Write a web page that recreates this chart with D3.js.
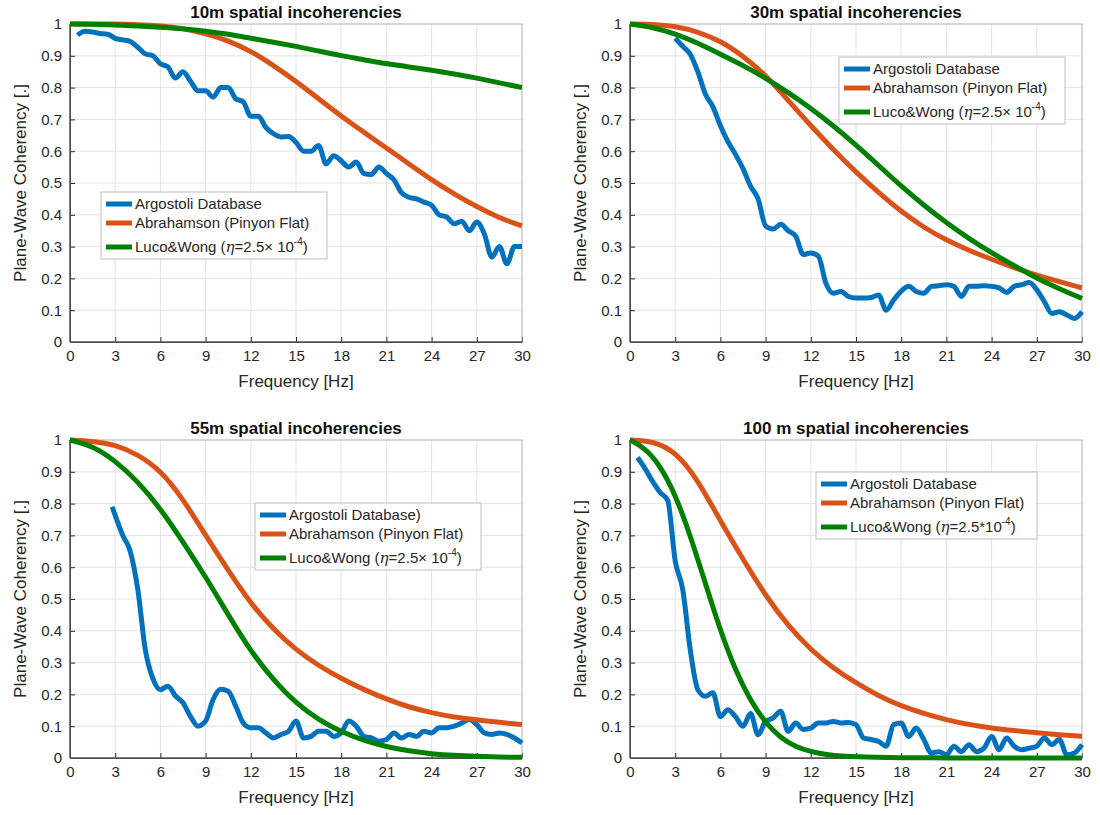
<!DOCTYPE html>
<html>
<head>
<meta charset="utf-8">
<script src="https://cdn.jsdelivr.net/npm/d3@7"></script>
<style>
body { margin:0; background:#fff; font-family:"Liberation Sans", Arial, sans-serif; }
</style>
</head>
<body>
<svg id="chart" width="1100" height="815"></svg>
<script>
// frequency ticks and model sample frequencies
const xTicks = [0,3,6,9,12,15,18,21,24,27,30]
const yTicks = [0,0.1,0.2,0.3,0.4,0.5,0.6,0.7,0.8,0.9,1]
const modelF = [0,1.5,3,4.5,6,7.5,9,10.5,12,13.5,15,16.5,18,19.5,21,22.5,24,25.5,27,28.5,30]

// 10m
const arg10F = [0.5,1,1.5,2,2.5,3,3.5,4,4.5,5,5.5,6,6.5,7,7.5,8,8.5,9,9.5,10,10.5,11,11.5,12,12.5,13,13.5,14,14.5,15,15.5,16,16.5,17,17.5,18,18.5,19,19.5,20,20.5,21,21.5,22,22.5,23,23.5,24,24.5,25,25.5,26,26.5,27,27.5,28,28.5,29,29.5,30]
const arg10 = [0.965,0.977,0.975,0.97,0.968,0.955,0.95,0.945,0.927,0.906,0.9,0.875,0.865,0.83,0.85,0.82,0.79,0.79,0.77,0.80,0.80,0.765,0.755,0.71,0.71,0.675,0.655,0.645,0.646,0.628,0.60,0.60,0.618,0.56,0.586,0.57,0.55,0.566,0.53,0.527,0.55,0.53,0.51,0.47,0.455,0.45,0.44,0.43,0.40,0.393,0.372,0.38,0.35,0.377,0.34,0.267,0.30,0.246,0.30,0.30]
const abr10 = [1,1,1,0.998,0.995,0.986,0.97,0.948,0.915,0.87,0.82,0.765,0.71,0.66,0.61,0.56,0.51,0.465,0.425,0.39,0.365]
const luc10 = [1,0.999,0.997,0.994,0.99,0.985,0.978,0.968,0.955,0.943,0.93,0.915,0.90,0.888,0.875,0.865,0.855,0.843,0.83,0.815,0.80]

// 30m
const arg30F = [3,3.5,4,4.5,5,5.5,6,6.5,7,7.5,8,8.5,9,9.5,10,10.5,11,11.5,12,12.5,13,13.5,14,14.5,15,15.5,16,16.5,17,17.5,18,18.5,19,19.5,20,20.5,21,21.5,22,22.5,23,23.5,24,24.5,25,25.5,26,26.5,27,27.5,28,28.5,29,29.5,30]
const arg30 = [0.955,0.93,0.905,0.85,0.78,0.74,0.68,0.63,0.59,0.545,0.49,0.45,0.365,0.355,0.37,0.35,0.333,0.275,0.28,0.27,0.185,0.153,0.159,0.143,0.138,0.138,0.14,0.148,0.10,0.132,0.16,0.175,0.159,0.153,0.175,0.177,0.18,0.175,0.143,0.175,0.175,0.177,0.175,0.17,0.156,0.175,0.18,0.187,0.164,0.127,0.09,0.095,0.085,0.074,0.095]
const abr30 = [1,0.999,0.993,0.976,0.947,0.9,0.84,0.76,0.68,0.605,0.534,0.47,0.41,0.36,0.32,0.288,0.26,0.233,0.21,0.19,0.17]
const luc30 = [1,0.99,0.97,0.94,0.905,0.87,0.83,0.785,0.735,0.68,0.62,0.555,0.49,0.43,0.375,0.325,0.28,0.24,0.20,0.167,0.137]

// 55m
const arg55F = [2.8,3.5,4,4.5,5,5.5,6,6.5,7,7.5,8,8.5,9,9.5,10,10.5,11,11.5,12,12.5,13,13.5,14,14.5,15,15.5,16,16.5,17,17.5,18,18.5,19,19.5,20,20.5,21,21.5,22,22.5,23,23.5,24,24.5,25,25.5,26,26.5,27,27.5,28,28.5,29,29.5,30]
const arg55 = [0.79,0.70,0.65,0.53,0.34,0.25,0.215,0.226,0.195,0.174,0.13,0.10,0.116,0.184,0.216,0.21,0.163,0.11,0.095,0.095,0.079,0.063,0.074,0.084,0.116,0.063,0.068,0.084,0.084,0.068,0.079,0.116,0.10,0.068,0.063,0.053,0.058,0.079,0.063,0.074,0.068,0.084,0.079,0.095,0.095,0.10,0.11,0.121,0.105,0.079,0.074,0.079,0.074,0.063,0.047]
const abr55 = [1,0.997,0.985,0.955,0.905,0.815,0.70,0.59,0.485,0.405,0.34,0.29,0.25,0.215,0.185,0.16,0.142,0.128,0.12,0.112,0.105]
const luc55 = [1,0.982,0.935,0.87,0.785,0.68,0.57,0.45,0.335,0.245,0.172,0.12,0.082,0.055,0.035,0.022,0.013,0.008,0.005,0.003,0.002]

// 100m
const arg100F = [0.5,1,1.5,2,2.5,3,3.5,4,4.5,5,5.5,6,6.5,7,7.5,8,8.5,9,9.5,10,10.5,11,11.5,12,12.5,13,13.5,14,14.5,15,15.5,16,16.5,17,17.5,18,18.5,19,19.5,20,20.5,21,21.5,22,22.5,23,23.5,24,24.5,25,25.5,26,26.5,27,27.5,28,28.5,29,29.5,30]
const arg100 = [0.945,0.91,0.87,0.835,0.81,0.62,0.53,0.34,0.215,0.194,0.205,0.13,0.152,0.13,0.10,0.14,0.073,0.115,0.126,0.147,0.084,0.11,0.09,0.094,0.11,0.11,0.115,0.11,0.112,0.105,0.063,0.058,0.052,0.037,0.105,0.11,0.068,0.094,0.058,0.016,0.02,0.01,0.037,0.02,0.042,0.02,0.031,0.068,0.026,0.063,0.037,0.026,0.031,0.037,0.063,0.042,0.058,0.01,0.016,0.042]
const abr100 = [1,0.997,0.965,0.875,0.745,0.625,0.51,0.415,0.34,0.282,0.236,0.195,0.163,0.14,0.12,0.105,0.094,0.086,0.079,0.073,0.068]
const luc100F = [0,1,2,3,4,5,6,7,8,9,10,11,12,13,15,18,21,24,27,30]
const luc100 = [1,0.975,0.92,0.83,0.70,0.55,0.40,0.275,0.18,0.11,0.063,0.035,0.02,0.01,0.003,0.001,0,0,0,0]

const blue = '#0072BD', orange = '#D95319', green = '#008000'

const panels = [
  {title:'10m spatial incoherencies', x:70, y:24, lines:[[arg10F,arg10,blue],[modelF,abr10,orange],[modelF,luc10,green]],
   legend:{x:101,y:192,w:226}, leg:['Argostoli Database','Abrahamson (Pinyon Flat)','x']},
  {title:'30m spatial incoherencies', x:630, y:24, lines:[[arg30F,arg30,blue],[modelF,abr30,orange],[modelF,luc30,green]],
   legend:{x:839,y:57,w:226}, leg:['Argostoli Database','Abrahamson (Pinyon Flat)','x']},
  {title:'55m spatial incoherencies', x:70, y:440, lines:[[arg55F,arg55,blue],[modelF,abr55,orange],[modelF,luc55,green]],
   legend:{x:255,y:503,w:226}, leg:['Argostoli Database)','Abrahamson (Pinyon Flat)','x']},
  {title:'100 m spatial incoherencies', x:630, y:440, lines:[[arg100F,arg100,blue],[modelF,abr100,orange],[luc100F,luc100,green]],
   legend:{x:816,y:472,w:221}, leg:['Argostoli Database','Abrahamson (Pinyon Flat)','*']}
]

const W = 452, H = 318
const svg = d3.select('#chart')

panels.forEach(p => {
  const g = svg.append('g').attr('transform', 'translate(' + p.x + ',' + p.y + ')')
  const x = d3.scaleLinear().domain([0,30]).range([0,W])
  const y = d3.scaleLinear().domain([0,1]).range([H,0])

  // grid
  g.selectAll('.gx').data(xTicks).enter().append('line')
    .attr('x1', d => x(d)).attr('x2', d => x(d)).attr('y1',0).attr('y2',H)
    .attr('stroke','#e3e3e3')
  g.selectAll('.gy').data(yTicks).enter().append('line')
    .attr('y1', d => y(d)).attr('y2', d => y(d)).attr('x1',0).attr('x2',W)
    .attr('stroke','#e3e3e3')

  const xAxis = d3.axisBottom(x).tickValues(xTicks).tickSizeInner(-5).tickSizeOuter(0).tickPadding(8)
  const yAxis = d3.axisLeft(y).tickValues(yTicks).tickSizeInner(-5).tickSizeOuter(0).tickPadding(8)
    .tickFormat(d => d === 0 || d === 1 ? String(d) : d3.format('.1f')(d))
  g.append('g').attr('transform','translate(0,' + H + ')').call(xAxis)
    .call(a => a.selectAll('text').attr('font-size',15).attr('fill','#262626').attr('font-family','Liberation Sans, Arial'))
    .call(a => a.selectAll('line,path').attr('stroke','#262626'))
  g.append('g').call(yAxis)
    .call(a => a.selectAll('text').attr('font-size',15).attr('fill','#262626').attr('font-family','Liberation Sans, Arial'))
    .call(a => a.selectAll('line,path').attr('stroke','#262626'))
  g.append('rect').attr('width',W).attr('height',H).attr('fill','none').attr('stroke','#bdbdbd')
  g.append('line').attr('x1',0).attr('x2',W).attr('y1',H).attr('y2',H).attr('stroke','#262626')
  g.append('line').attr('x1',0).attr('x2',0).attr('y1',0).attr('y2',H).attr('stroke','#262626')

  const dataLine = d3.line().x(d => x(d[0])).y(d => y(d[1])).curve(d3.curveMonotoneX)
  const modelLine = d3.line().x(d => x(d[0])).y(d => y(d[1])).curve(d3.curveBasis)
  p.lines.forEach((l, k) => {
    g.append('path').datum(l[0].map((f,i) => [f, l[1][i]]))
      .attr('d', k === 0 ? dataLine : modelLine).attr('fill','none').attr('stroke', l[2]).attr('stroke-width',5)
      .attr('stroke-linejoin','round')
  })

  g.append('text').attr('x', W/2).attr('y', -6).attr('text-anchor','middle')
    .attr('font-size',17).attr('font-weight','bold').attr('fill','#111').text(p.title)
  g.append('text').attr('x', W/2).attr('y', H+45).attr('text-anchor','middle')
    .attr('font-size',17).attr('fill','#262626').text('Frequency [Hz]')
  g.append('text').attr('transform','translate(-44,' + H/2 + ') rotate(-90)').attr('text-anchor','middle')
    .attr('font-size',17).attr('fill','#262626').text('Plane-Wave Coherency [.]')

  // legend
  const lg = svg.append('g').attr('transform','translate(' + p.legend.x + ',' + p.legend.y + ')')
  lg.append('rect').attr('width',p.legend.w).attr('height',67).attr('fill','#fff').attr('stroke','#bdbdbd')
  const cols = [blue, orange, green]
  const rowsY = [12, 31, 55]
  cols.forEach((c,i) => {
    lg.append('line').attr('x1',5).attr('x2',31).attr('y1',rowsY[i]).attr('y2',rowsY[i]).attr('stroke',c).attr('stroke-width',5)
    const t = lg.append('text').attr('x',34).attr('y',rowsY[i]+5).attr('font-size',15).attr('fill','#262626')
    if (i < 2) t.text(p.leg[i])
    else {
      t.append('tspan').text('Luco&Wong (')
      t.append('tspan').attr('font-style','italic').attr('font-family','DejaVu Serif, serif').text('η')
      t.append('tspan').text(p.leg[2] === '*' ? '=2.5*10' : '=2.5× 10')
      t.append('tspan').attr('font-size',10).attr('dy',-7).text('-4')
      t.append('tspan').attr('dy',7).text(')')
    }
  })
})
</script>
</body>
</html>
